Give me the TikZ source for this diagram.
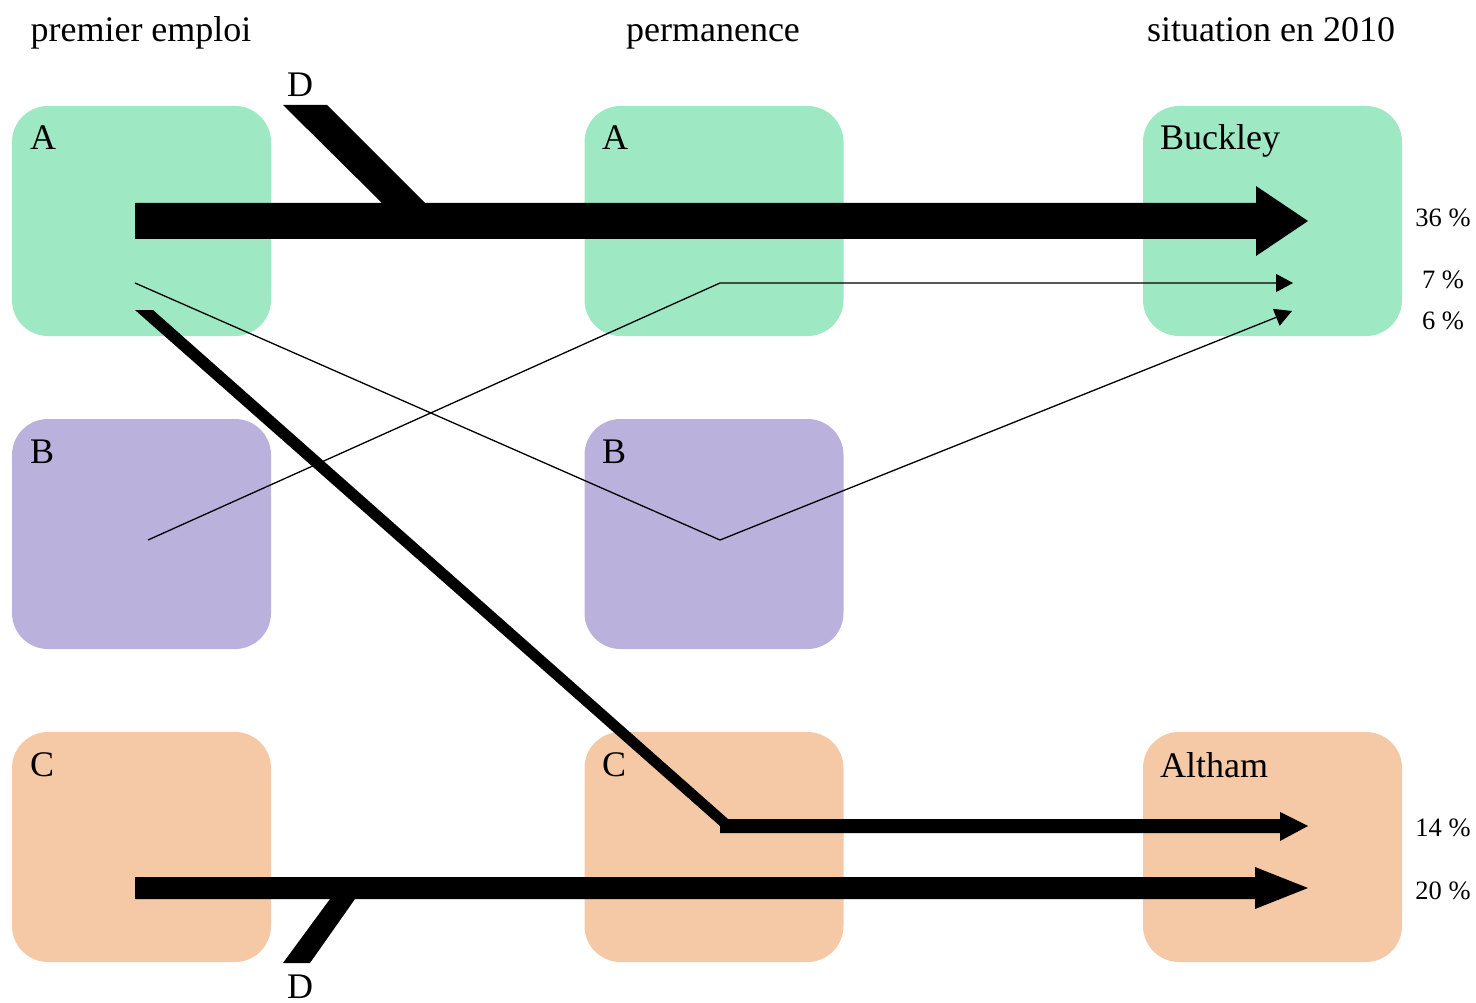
\documentclass[tikz,border=0pt]{standalone}
\usepackage{fontspec}
\setmainfont{Liberation Serif}
\usetikzlibrary{arrows.meta}
\definecolor{cgreen}{HTML}{9EE8C4}
\definecolor{cpurple}{HTML}{BAB2DD}
\definecolor{corange}{HTML}{F5C8A6}
\tikzset{
  box/.style={draw=none, minimum width=259pt, minimum height=230pt, inner sep=0pt, rounded corners=36pt},
  big/.style={font=\fontsize{36}{42}\selectfont},
  pct/.style={font=\fontsize{26.5}{31}\selectfont},
  thin/.style={line width=1.3pt, -{Triangle[length=17pt,width=18pt]}},
  flow/.style={fill=black, draw=none}
}
\begin{document}
\begin{tikzpicture}[x=1pt,y=-1pt]
\useasboundingbox (0,0) rectangle (1476,1003);
% boxes
\node[box, fill=cgreen]  (a1) at (141.5,221) {};
\node[box, fill=cgreen]  (a2) at (714,221) {};
\node[box, fill=cgreen]  (bk) at (1272.5,221) {};
\node[box, fill=cpurple] (b1) at (141.5,534) {};
\node[box, fill=cpurple] (b2) at (714,534) {};
\node[box, fill=corange] (c1) at (141.5,847) {};
\node[box, fill=corange] (c2) at (714,847) {};
\node[box, fill=corange] (al) at (1272.5,847) {};
% headers
\node[big, anchor=base] (h1) at (141,42) {premier emploi};
\node[big, anchor=base] (h2) at (713,42) {permanence};
\node[big, anchor=base] (h3) at (1271,42) {situation en 2010};
% box labels
\node[big, anchor=base west, inner sep=0pt] (la1) at (30,150) {A};
\node[big, anchor=base west, inner sep=0pt] (la2) at (602,150) {A};
\node[big, anchor=base west, inner sep=0pt] (lbk) at (1160,150) {Buckley};
\node[big, anchor=base west, inner sep=0pt] (lb1) at (30,463) {B};
\node[big, anchor=base west, inner sep=0pt] (lb2) at (602,463) {B};
\node[big, anchor=base west, inner sep=0pt] (lc1) at (30,776) {C};
\node[big, anchor=base west, inner sep=0pt] (lc2) at (602,776) {C};
\node[big, anchor=base west, inner sep=0pt] (lal) at (1160,777) {Altham};
\node[big, anchor=base] (dtop) at (300,97) {D};
\node[big, anchor=base] (dbot) at (300,998) {D};
% percentages
\node[pct] (p36) at (1443,218) {36 \%};
\node[pct] (p7)  at (1443,280) {7 \%};
\node[pct] (p6)  at (1443,321) {6 \%};
\node[pct] (p14) at (1443,828) {14 \%};
\node[pct] (p20) at (1443,891) {20 \%};
% flow coordinates
\coordinate (s1) at (135,283);
\coordinate (m1) at (720,540);
\coordinate (e1) at (1292,311);
\coordinate (s2) at (148,540);
\coordinate (m2) at (720,283);
\coordinate (e2) at (1293,283);
% big A -> Buckley with D input
\fill[flow] (135,203) -- (382,203) -- (283,105) -- (327,105) -- (425,203) -- (1256,203) -- (1256,186)
  -- (1308,221) -- (1256,256) -- (1256,239) -- (135,239) -- cycle;
% A -> C -> Altham
\fill[flow] (135,310) -- (153,310) -- (728,819) -- (1280,819) -- (1280,812) -- (1308,826)
  -- (1280,841) -- (1280,833) -- (720,833) -- (720,826) -- cycle;
% C -> Altham with D input
\fill[flow] (135,877) -- (1255,877) -- (1255,867) -- (1308,888) -- (1255,909) -- (1255,899)
  -- (355,899) -- (310,963) -- (283,963) -- (330,899) -- (135,899) -- cycle;
% thin flows
\draw[thin] (s1) -- (m1) -- (e1);
\draw[thin] (s2) -- (m2) -- (e2);
\end{tikzpicture}
\end{document}
